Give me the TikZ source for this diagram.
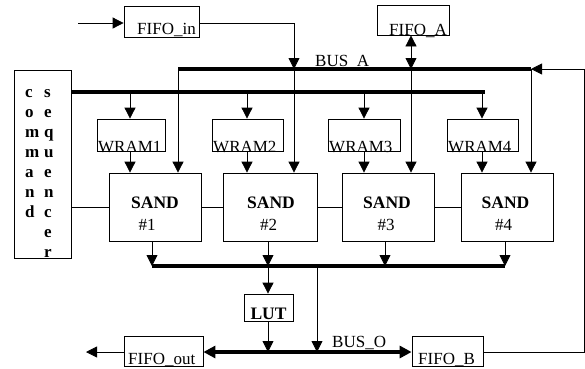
\documentclass[tikz,border=0pt]{standalone}
\usepackage{fontspec}
\setmainfont{Liberation Serif}
\usetikzlibrary{arrows.meta}
\begin{document}
\begin{tikzpicture}[x=1pt,y=-1pt,
  box/.style={draw,line width=0.8pt,inner sep=0pt},
  lbl/.style={font=\fontsize{17}{20}\selectfont,inner sep=0pt,anchor=base west},
  blbl/.style={font=\fontsize{17.5}{20}\selectfont\bfseries,inner sep=0pt,anchor=base},
  ln/.style={line width=0.8pt},
  arr/.style={line width=0.8pt,-{Triangle[length=11pt,width=11pt]}},
  dbl/.style={line width=0.8pt,{Triangle[length=11pt,width=11pt]}-{Triangle[length=11pt,width=11pt]}},
  bus/.style={line width=4pt}]
\useasboundingbox (0,0) rectangle (585,368);
% boxes
\node[box,minimum width=75pt,minimum height=31pt] (fin) at (161.5,21.5) {};
\node[box,minimum width=72pt,minimum height=30pt] (fa) at (413,20) {};
\node[box,minimum width=57pt,minimum height=188pt] (cs) at (42.5,164) {};
\node[box,minimum width=68pt,minimum height=32pt] (w1) at (131,135) {};
\node[box,minimum width=71pt,minimum height=32pt] (w2) at (247.5,135) {};
\node[box,minimum width=72pt,minimum height=32pt] (w3) at (364,135) {};
\node[box,minimum width=71pt,minimum height=32pt] (w4) at (482.5,135) {};
\node[box,minimum width=92pt,minimum height=68pt] (s1) at (155,207) {};
\node[box,minimum width=94pt,minimum height=68pt] (s2) at (270,207) {};
\node[box,minimum width=92pt,minimum height=68pt] (s3) at (388,207) {};
\node[box,minimum width=92pt,minimum height=68pt] (s4) at (507,207) {};
\node[box,minimum width=49pt,minimum height=27pt] (lut) at (268.5,307.5) {};
\node[box,minimum width=79pt,minimum height=30pt] (fout) at (163.5,351) {};
\node[box,minimum width=71pt,minimum height=30pt] (fb) at (447.5,351) {};
% texts
\node[lbl] (tfin) at (137,34.5) {FIFO\_in};
\node[lbl] (tfa) at (389,35) {FIFO\_A};
\node[lbl] (tw1) at (98,152) {WRAM1};
\node[lbl] (tw2) at (213,152) {WRAM2};
\node[lbl] (tw3) at (329,152) {WRAM3};
\node[lbl] (tw4) at (448,152) {WRAM4};
\node[blbl] (ts1) at (155,208) {SAND};
\node[blbl] (ts2) at (271,208) {SAND};
\node[blbl] (ts3) at (387,208) {SAND};
\node[blbl] (ts4) at (505.5,208) {SAND};
\node[lbl,anchor=base] (n1) at (147,230) {\#1};
\node[lbl,anchor=base] (n2) at (268.5,230) {\#2};
\node[lbl,anchor=base] (n3) at (386,230) {\#3};
\node[lbl,anchor=base] (n4) at (503.5,230) {\#4};
\node[blbl] (tlut) at (268.5,319) {LUT};
\node[lbl] (tfout) at (128,364) {FIFO\_out};
\node[lbl] (tfb) at (418,364) {FIFO\_B};
\node[lbl] (tba) at (315,66) {BUS\_A};
\node[lbl] (tbo) at (332,347) {BUS\_O};
% command sequencer letters
\foreach \c [count=\i from 0] in {c,o,m,m,a,n,d}
  \node[lbl,font=\fontsize{17}{20}\selectfont\bfseries] (cl\i) at (25,97+20*\i) {\c};
\foreach \c [count=\i from 0] in {s,e,q,u,e,n,c,e,r}
  \node[lbl,font=\fontsize{17}{20}\selectfont\bfseries] (cr\i) at (44,97+20*\i) {\c};
% coordinates
\coordinate (in) at (78,23);
\coordinate (baL) at (178,69);
\coordinate (ba2) at (294,69);
\coordinate (ba3) at (411,69);
\coordinate (baR) at (531,69);
\coordinate (rt) at (584,69);
\coordinate (cbR) at (485,92);
\coordinate (obL) at (152,266);
\coordinate (ob2) at (268,266);
\coordinate (ob3) at (317,266);
\coordinate (obR) at (505,266);
\coordinate (bo) at (317,352);
\coordinate (out) at (86,352);
% buses
\draw[bus] (baL) -- (baR);
\draw[bus] (cs.east |- cbR) -- (cbR);
\draw[bus] (obL) -- (obR);
\draw[bus,{Triangle[length=12pt,width=12pt]}-{Triangle[length=12pt,width=12pt]}] (fout.east |- bo) -- (fb.west |- bo);
% FIFO_in
\draw[arr] (in) -- (in -| fin.west);
\draw[arr] (fin.east |- in) -| (ba2);
\draw[dbl] (fa.south -| ba3) -- (ba3);
% BUS_A down to SANDs
\draw[arr] (baL) -- (baL |- s1.north);
\draw[arr] (ba2) -- (ba2 |- s2.north);
\draw[arr] (ba3) -- (ba3 |- s3.north);
\draw[arr] (baR) -- (baR |- s4.north);
% command bus to WRAMs
\foreach \w/\s/\x in {w1/s1/130,w2/s2/247,w3/s3/364,w4/s4/482}{
  \draw[arr] (\x,92) -- (\x,0 |- \w.north);
  \draw[arr] (\x,0 |- \w.south) -- (\x,0 |- \s.north);
}
% horizontal links
\draw[ln] (cs.east |- s1.west) -- (s1.west);
\draw[ln] (s1.east) -- (s2.west);
\draw[ln] (s2.east) -- (s3.west);
\draw[ln] (s3.east) -- (s4.west);
% SAND outputs
\draw[arr] (obL |- s1.south) -- (obL);
\draw[arr] (ob2 |- s2.south) -- (ob2);
\draw[arr] (385,0 |- s3.south) -- (385,266);
\draw[arr] (obR |- s4.south) -- (obR);
\draw[arr] (ob2) -- (ob2 |- lut.north);
\draw[arr] (ob2 |- lut.south) -- (ob2 |- bo);
\draw[arr] (ob3) -- (bo);
% outputs
\draw[arr] (fout.west |- out) -- (out);
\draw[arr] (fb.east |- bo) -| (rt) -- (baR);
\end{tikzpicture}
\end{document}
